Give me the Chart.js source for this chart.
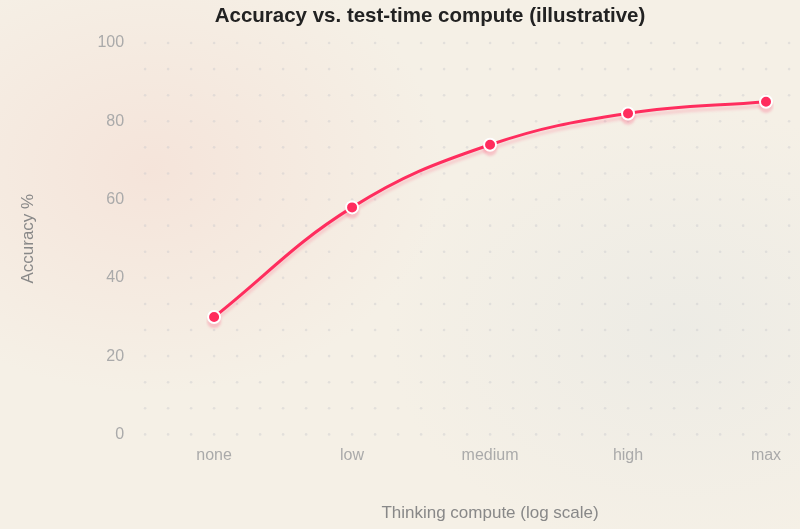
<!DOCTYPE html>
<html>
<head>
<meta charset="utf-8">
<script src="https://cdn.jsdelivr.net/npm/chart.js@4"></script>
<style>
  html, body { margin: 0; padding: 0; }
  body {
    width: 800px; height: 529px; overflow: hidden;
    background:
      radial-gradient(ellipse 420px 320px at 150px 170px, rgba(245, 226, 216, 0.85), rgba(245, 226, 216, 0) 70%),
      radial-gradient(ellipse 420px 320px at 680px 330px, rgba(236, 235, 229, 0.9), rgba(236, 235, 229, 0) 70%),
      #f5f0e6;
  }
  #wrap { position: relative; width: 800px; height: 529px; }
</style>
</head>
<body>
<div id="wrap"><canvas id="chart" width="800" height="529"></canvas></div>
<script>
  const categories = ["none", "low", "medium", "high", "max"];
  const accuracy = [30, 58, 74, 82, 85];
  const yTicks = [0, 20, 40, 60, 80, 100];
  const chartTitle = "Accuracy vs. test-time compute (illustrative)";

  const FONT = "Liberation Sans, Arial, sans-serif";

  // dotted background grid, a bit wider than the plotted range
  const dotGrid = {
    id: "dotGrid",
    beforeDatasetsDraw(chart) {
      const { ctx, chartArea } = chart;
      const rowGap = (chartArea.bottom - chartArea.top) / 15;
      ctx.save();
      ctx.fillStyle = "rgba(200, 200, 205, 0.42)";
      for (let j = 0; j <= 15; j++) {
        const y = chartArea.top + j * rowGap;
        for (let k = -3; k <= 25; k++) {
          const x = chartArea.left + k * 23;
          ctx.beginPath();
          ctx.arc(x, y, 1.3, 0, Math.PI * 2);
          ctx.fill();
        }
      }
      ctx.restore();
    }
  };

  // soft pink shadow under the line
  const lineGlow = {
    id: "lineGlow",
    beforeDatasetDraw(chart) {
      const ctx = chart.ctx;
      ctx.save();
      ctx.shadowColor = "rgba(255, 45, 94, 0.2)";
      ctx.shadowBlur = 3;
      ctx.shadowOffsetY = 4;
    },
    afterDatasetDraw(chart) {
      chart.ctx.restore();
    }
  };

  // heading sits slightly right of the canvas centre, as in the original
  const heading = {
    id: "heading",
    afterDraw(chart) {
      const ctx = chart.ctx;
      ctx.save();
      ctx.font = "bold 20.5px " + FONT;
      ctx.fillStyle = "#222222";
      ctx.textAlign = "center";
      ctx.textBaseline = "middle";
      ctx.fillText(chartTitle, chart.width / 2 + 30, 16);
      ctx.restore();
    }
  };

  new Chart(document.getElementById("chart"), {
    type: "line",
    data: {
      labels: categories,
      datasets: [{
        label: "Accuracy",
        data: accuracy,
        borderColor: "#ff2d5e",
        borderWidth: 3,
        tension: 0.4,
        pointRadius: 6,
        pointBackgroundColor: "#ff2d5e",
        pointBorderColor: "#ffffff",
        pointBorderWidth: 2
      }]
    },
    options: {
      responsive: false,
      animation: false,
      layout: { padding: { left: 18, right: 34, top: 43, bottom: 5 } },
      plugins: {
        legend: { display: false },
        tooltip: { enabled: false },
        title: { display: false }
      },
      scales: {
        x: {
          grid: { display: false },
          border: { display: false },
          ticks: {
            color: "#aaaaaa",
            font: { family: FONT, size: 16 },
            padding: 4
          },
          title: {
            display: true,
            text: "Thinking compute (log scale)",
            color: "#888888",
            font: { family: FONT, size: 17 },
            padding: { top: 34, bottom: 0 }
          }
        },
        y: {
          min: 0,
          max: 100,
          afterBuildTicks: axis => { axis.ticks = yTicks.map(v => ({ value: v })); },
          // hidden grid, but the long tick length keeps labels away from the plot
          grid: { display: false, tickLength: 86 },
          border: { display: false },
          ticks: {
            color: "#aaaaaa",
            font: { family: FONT, size: 16 },
            padding: 4
          },
          title: {
            display: true,
            text: "Accuracy %",
            color: "#888888",
            font: { family: FONT, size: 17 },
            padding: { top: 0, bottom: 55 }
          }
        }
      }
    },
    plugins: [dotGrid, lineGlow, heading]
  });
</script>
</body>
</html>
